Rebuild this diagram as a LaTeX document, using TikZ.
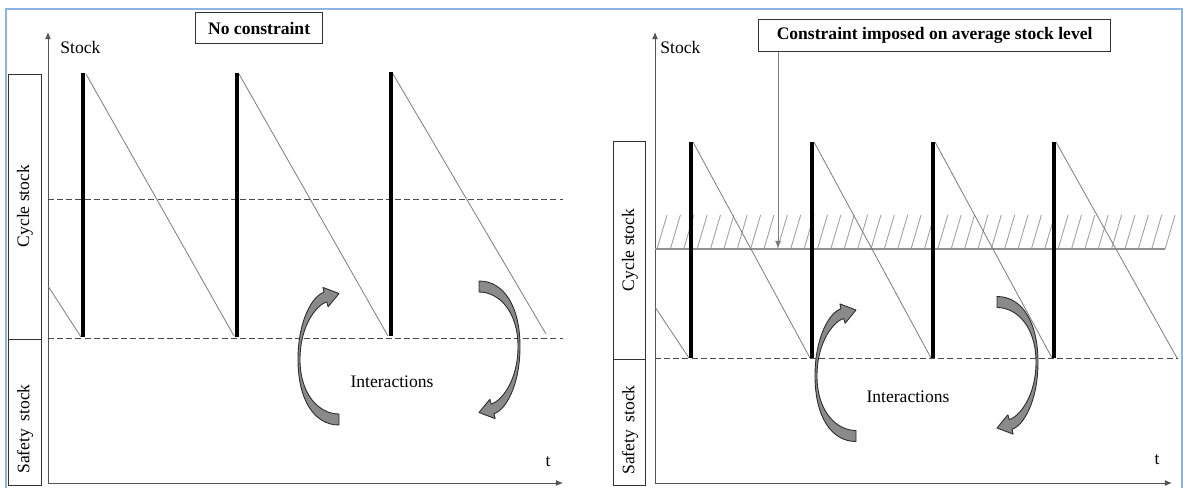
\documentclass[tikz,border=0pt]{standalone}
\usepackage{fontspec}
\setmainfont{Liberation Serif}
\usetikzlibrary{arrows.meta}
\definecolor{axiscol}{HTML}{555555}
\definecolor{thincol}{HTML}{7A7A7A}
\definecolor{dashcol}{HTML}{4A4A4A}
\definecolor{hatchcol}{HTML}{A0A0A0}
\definecolor{framecol}{HTML}{8DB3E2}
\definecolor{arrfill}{HTML}{8A8A8A}
\definecolor{arrline}{HTML}{2B2B2B}
\definecolor{boxcol}{HTML}{333333}
\tikzset{
  axis/.style={draw=axiscol, line width=0.55pt, -{Latex[length=4pt,width=3.4pt]}},
  bar/.style={line width=2.8pt, black},
  saw/.style={draw=thincol, line width=0.45pt},
  dashln/.style={draw=dashcol, line width=0.45pt, dash pattern=on 3.4pt off 1.8pt},
  hatch/.style={draw=hatchcol, line width=0.5pt},
  hbase/.style={draw=hatchcol!90!black, line width=1.1pt},
  titlebox/.style={draw=boxcol, line width=0.7pt, font=\fontsize{10}{12}\selectfont\bfseries, inner sep=0pt, anchor=north west},
  sidebox/.style={draw=boxcol, line width=0.7pt, inner sep=0pt, anchor=north west},
  sidetext/.style={rotate=90, font=\fontsize{10}{12}\selectfont, inner sep=0pt},
  lbl/.style={font=\fontsize{10}{12}\selectfont, inner sep=0pt},
  arrowfill/.style={fill=arrfill, draw=arrline, line width=0.5pt, line join=round},
  carrow/.pic={
    \path[arrowfill] (0,5.5) .. controls (-25,5.5) and (-41,-20) .. (-41,-60)
      .. controls (-41,-100) and (-26,-124) .. (-15,-127.2)
      -- (-16.1,-132.1) -- (0,-126) -- (-10.9,-112.7) -- (-12.2,-117.6)
      .. controls (-21.7,-115) and (-39,-95) .. (-39,-60)
      .. controls (-39,-25) and (-20,-5.5) .. (0,-5.5) -- cycle;
  }
}
\begin{document}
\begin{tikzpicture}[x=0.02cm,y=-0.02cm]
\useasboundingbox (0,0) rectangle (1183,487);
% outer frame
\draw[framecol, line width=1pt] (6,490) -- (6,9) -- (1182,9) -- (1182,490);

% ================= Panel 1 =================
\coordinate (o1) at (48,483);
\coordinate (y1) at (48,32);
\coordinate (x1) at (563,483);
\draw[axis] (o1) -- (y1);
\draw[axis] (o1) -- (x1);
\node[lbl, anchor=west] (stock1) at (60,47) {Stock};
\node[lbl] (t1) at (548,462) {t};
\node[titlebox, minimum width=0.02cm*127, minimum height=0.02cm*31] (ncbox) at (195,12) {No constraint};

\node[sidebox, minimum width=0.02cm*33, minimum height=0.02cm*265] (cs1) at (8,74) {};
\node[sidebox, minimum width=0.02cm*33, minimum height=0.02cm*146] (ss1) at (8,339) {};
\node[sidetext] (cs1t) at (25,206) {Cycle stock};
\node[sidetext] (ss1t) at (25,429) {Safety\, stock};

% dashed levels
\coordinate (d1a) at (48,199); \coordinate (d1b) at (563,199);
\coordinate (d2a) at (48,338); \coordinate (d2b) at (563,338);
\draw[dashln] (d1a) -- (d1b);
\draw[dashln] (d2a) -- (d2b);

% saw-tooth
\draw[saw] (48,286) -- (81,337);
\draw[saw] (86,74) -- (234,336);
\draw[saw] (239,74) -- (388,336);
\draw[saw] (393,74) -- (546,334);
\draw[bar] (83,73) -- (83,337);
\draw[bar] (237,73) -- (237,337);
\draw[bar] (391,72) -- (391,336);

\node[lbl] (int1) at (392,382) {Interactions};
\pic at (339,419.5) {carrow};
\pic[rotate=180] at (479,286.5) {carrow};

% ================= Panel 2 =================
\coordinate (o2) at (655,483);
\coordinate (y2) at (655,32);
\coordinate (x2) at (1172,483);
\draw[axis] (o2) -- (y2);
\draw[axis] (o2) -- (x2);
\node[lbl, anchor=west] (stock2) at (660,47) {Stock};
\node[lbl] (t2) at (1157,460) {t};
\node[titlebox, minimum width=0.02cm*352, minimum height=0.02cm*32] (cbox) at (758,19) {Constraint imposed on average stock level};

\node[sidebox, minimum width=0.02cm*32, minimum height=0.02cm*218] (cs2) at (613,141) {};
\node[sidebox, minimum width=0.02cm*32, minimum height=0.02cm*126] (ss2) at (613,359) {};
\node[sidetext] (cs2t) at (630,250) {Cycle stock};
\node[sidetext] (ss2t) at (630,430) {Safety\, stock};

% hatching (constraint level)
\foreach \k in {0,...,38}{
  \draw[hatch] ({657+13.37*\k},249) -- ({667+13.37*\k},215);
}
\coordinate (h1) at (655,249); \coordinate (h2) at (1165,249);
\draw[hbase] (h1) -- (h2);
\coordinate (carr) at (778,248);
\draw[draw=thincol, line width=0.5pt, -{Latex[length=4pt,width=3.4pt]}] (cbox.south -| carr) -- (carr);

% dashed safety level
\coordinate (d3a) at (655,358); \coordinate (d3b) at (1178,358);
\draw[dashln] (d3a) -- (d3b);

% saw-tooth
\draw[saw] (655,307) -- (689,358);
\draw[saw] (693,142) -- (810,358);
\draw[saw] (814,142) -- (931,358);
\draw[saw] (935,142) -- (1052,358);
\draw[saw] (1056,142) -- (1177,358);
\draw[bar] (691,142) -- (691,358);
\draw[bar] (812,142) -- (812,358);
\draw[bar] (933,142) -- (933,358);
\draw[bar] (1054,142) -- (1054,358);

\node[lbl] (int2) at (908,397) {Interactions};
\pic at (856,436) {carrow};
\pic[rotate=180] at (997,302) {carrow};
\end{tikzpicture}
\end{document}
